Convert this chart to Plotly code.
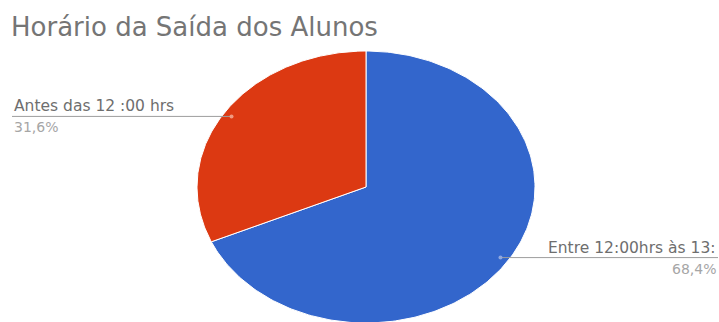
import numpy as np
import plotly.graph_objects as go

# Data
labels = ["Entre 12:00hrs às 13:", "Antes das 12 :00 hrs"]
values = [68.4, 31.6]
pct_text = ["68,4%", "31,6%"]
colors = ["#3366CC", "#DC3912"]
dot_colors = ["#8FA8E0", "#F09A80"]

# Figure geometry (pixels): the pie is drawn as an ellipse in data space,
# unit radius on both axes, stretched by the axis ranges.
W, H = 719, 322
cx_px, cy_px, rx_px, ry_px = 366, 187, 169, 136
xr = [-cx_px / rx_px, (W - cx_px) / rx_px]
yr = [-(H - cy_px) / ry_px, cy_px / ry_px]

FONT = "DejaVu Sans"


def px_to_x(px):
    return xr[0] + px / W * (xr[1] - xr[0])


fig = go.Figure()
total = sum(values)
start = 90.0
mids = []
for lab, v, c in zip(labels, values, colors):
    sweep = 360.0 * v / total
    th = np.radians(np.linspace(start, start - sweep, 240))
    xs = np.concatenate([[0], np.cos(th), [0]])
    ys = np.concatenate([[0], np.sin(th), [0]])
    fig.add_trace(go.Scatter(
        x=xs, y=ys, fill="toself", fillcolor=c, mode="lines",
        line=dict(color="white", width=1), hoverinfo="skip", showlegend=False,
    ))
    mids.append(start - sweep / 2)
    start -= sweep

# Leader lines, anchor dots and labels
r_anchor = 0.95
annotations = []
for lab, pct, mid, dc in zip(labels, pct_text, mids, dot_colors):
    a = np.radians(mid)
    dx, dy = r_anchor * np.cos(a), r_anchor * np.sin(a)
    right = dx > 0
    end_px = 718 if right else 12
    x_end = px_to_x(end_px)
    fig.add_trace(go.Scatter(
        x=[dx, x_end], y=[dy, dy], mode="lines",
        line=dict(color="#9E9E9E", width=1), hoverinfo="skip", showlegend=False,
    ))
    fig.add_trace(go.Scatter(
        x=[dx], y=[dy], mode="markers",
        marker=dict(size=4, color=dc), hoverinfo="skip", showlegend=False,
    ))
    xa = "right" if right else "left"
    annotations.append(dict(
        x=end_px / W, xref="paper", y=dy, yref="y", text=lab,
        xanchor=xa, yanchor="bottom", yshift=-1, showarrow=False,
        font=dict(family=FONT, size=15.5, color="#6E6E6E"),
    ))
    annotations.append(dict(
        x=end_px / W, xref="paper", y=dy, yref="y", text=pct,
        xanchor=xa, yanchor="top", yshift=-1, showarrow=False,
        font=dict(family=FONT, size=14, color="#A6A6A6"),
    ))

fig.update_layout(
    width=W, height=H,
    margin=dict(l=0, r=0, t=0, b=0),
    paper_bgcolor="white", plot_bgcolor="white",
    xaxis=dict(range=xr, visible=False, fixedrange=True),
    yaxis=dict(range=yr, visible=False, fixedrange=True),
    title=dict(
        text="Horário da Saída dos Alunos",
        x=11 / W, xanchor="left", xref="paper",
        y=1 - 27 / H, yanchor="middle", yref="container",
        font=dict(family=FONT, size=26, color="#757575"),
    ),
    annotations=annotations,
    showlegend=False,
)

fig.write_html("out.html")
